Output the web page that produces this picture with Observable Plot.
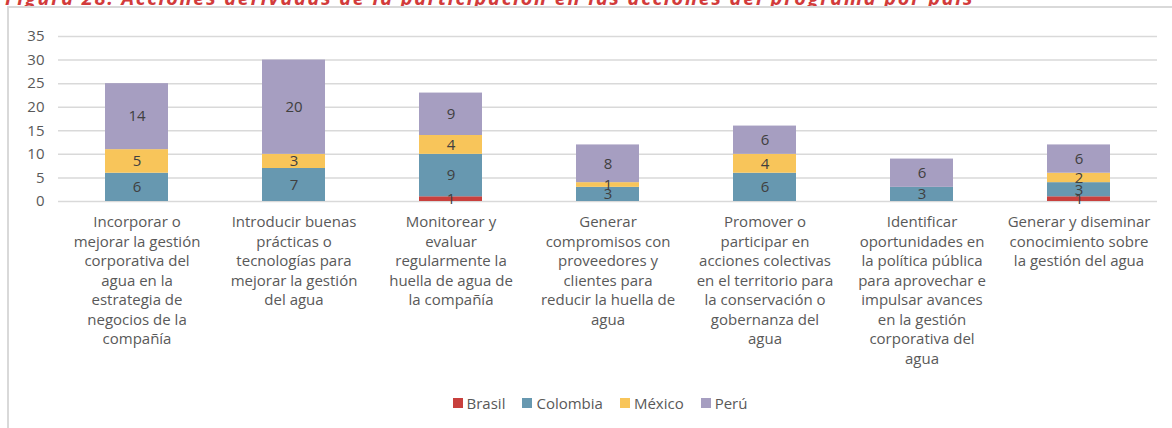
<!DOCTYPE html>
<html>
<head>
<meta charset="utf-8">
<script src="https://cdn.jsdelivr.net/npm/d3@7"></script>
<script src="https://cdn.jsdelivr.net/npm/@observablehq/plot@0.6"></script>
<style>
  html, body { margin: 0; padding: 0; background: #fff; overflow: hidden; }
  body { width: 1172px; height: 428px; position: relative; font-family: "Open Sans", sans-serif; }
  #title { position: absolute; left: 5px; top: -16px; font-size: 20px; font-style: italic; font-weight: bold; letter-spacing: 1.7px; color: #d23b3b; white-space: nowrap; }
  #box { position: absolute; left: 7px; top: 6px; width: 1200px; height: 500px; border-left: 2px solid #d9d9d9; border-top: 2px solid #d9d9d9; background: #fff; }
  #chart { position: absolute; left: 0; top: 0; }
  #legend { position: absolute; left: 0; width: 1200px; top: 393px; display: flex; justify-content: center; gap: 17px; font-size: 15px; color: #595959; }
  #legend span.item { display: inline-flex; align-items: center; }
  #legend span.sw { width: 10px; height: 10px; display: inline-block; margin-right: 4px; }
</style>
</head>
<body>
<div id="title">Figura 28: Acciones derivadas de la participación en las acciones del programa por país</div>
<div id="box"></div>
<div id="chart"></div>
<div id="legend"></div>
<script>
const categories = [
  "Incorporar o\nmejorar la gestión\ncorporativa del\nagua en la\nestrategia de\nnegocios de la\ncompañía",
  "Introducir buenas\nprácticas o\ntecnologías para\nmejorar la gestión\ndel agua",
  "Monitorear y\nevaluar\nregularmente la\nhuella de agua de\nla compañía",
  "Generar\ncompromisos con\nproveedores y\nclientes para\nreducir la huella de\nagua",
  "Promover o\nparticipar en\nacciones colectivas\nen el territorio para\nla conservación o\ngobernanza del\nagua",
  "Identificar\noportunidades en\nla política pública\npara aprovechar e\nimpulsar avances\nen la gestión\ncorporativa del\nagua",
  "Generar y diseminar\nconocimiento sobre\nla gestión del agua"
];
const countries = ["Brasil", "Colombia", "México", "Perú"];
const colors = ["#c8403d", "#6798b0", "#f8c55a", "#a69ec1"];
const brasil   = [0, 0, 1, 0, 0, 0, 1];
const colombia = [6, 7, 9, 3, 6, 3, 3];
const mexico   = [5, 3, 4, 1, 4, 0, 2];
const peru     = [14, 20, 9, 8, 6, 6, 6];
const yTicks = [0, 5, 10, 15, 20, 25, 30, 35];

const series = [brasil, colombia, mexico, peru];
const data = [];
countries.forEach((c, i) => {
  categories.forEach((cat, j) => {
    if (series[i][j] > 0) data.push({cat, country: c, value: series[i][j]});
  });
});

const chart = Plot.plot({
  width: 1172,
  height: 380,
  marginLeft: 58,
  marginRight: 15,
  marginTop: 36,
  marginBottom: 179,
  style: {fontFamily: "'Open Sans', sans-serif", fontSize: "14px", color: "#595959", background: "transparent"},
  x: {domain: categories, paddingInner: 0.6, paddingOuter: 0.3, axis: null},
  y: {domain: [0, 35], axis: null},
  color: {domain: countries, range: colors},
  marks: [
    Plot.ruleY(yTicks, {stroke: "#d9d9d9", strokeWidth: 1.5}),
    Plot.axisY(yTicks, {tickSize: 0, tickPadding: 14, fontSize: 15, fill: "#595959", label: null}),
    Plot.barY(data, Plot.stackY({x: "cat", y: "value", z: "country", fill: "country", order: countries, inset: 0})),
    Plot.text(data, Plot.stackY({x: "cat", y: "value", z: "country", order: countries, text: "value", fill: "#404040", fontSize: 15})),
    Plot.text(categories, {x: d => d, text: d => d, frameAnchor: "bottom", lineAnchor: "top", dy: 12, fontSize: 15, lineHeight: 1.3, fill: "#595959"})
  ]
});
document.getElementById("chart").appendChild(chart);

const legend = document.getElementById("legend");
countries.forEach((c, i) => {
  const item = document.createElement("span");
  item.className = "item";
  const sw = document.createElement("span");
  sw.className = "sw";
  sw.style.background = colors[i];
  item.appendChild(sw);
  item.appendChild(document.createTextNode(c));
  legend.appendChild(item);
});
</script>
</body>
</html>
